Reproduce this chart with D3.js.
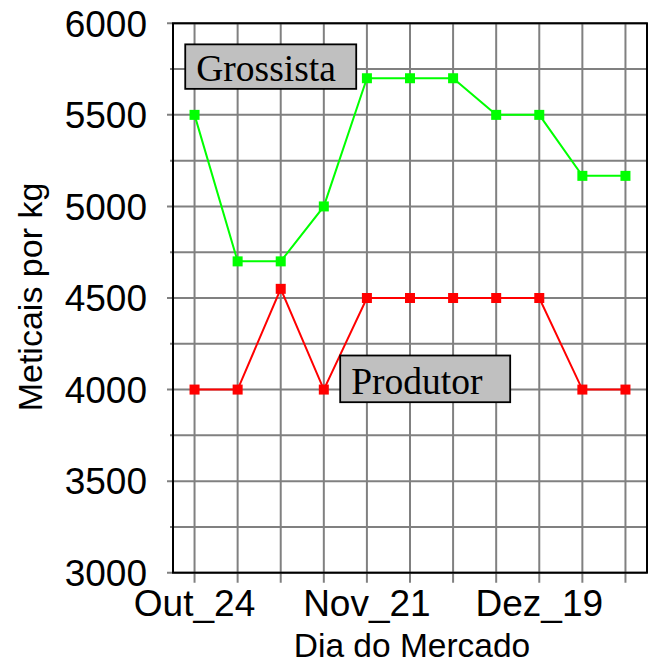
<!DOCTYPE html>
<html><head><meta charset="utf-8">
<script src="https://cdn.jsdelivr.net/npm/d3@7"></script>
<style>body{margin:0;background:#fff}</style>
</head><body>
<svg id="c" width="656" height="664"></svg>
<script>
const categories = ["Out_24","Out_31","Nov_07","Nov_14","Nov_21","Nov_28","Dez_05","Dez_12","Dez_19","Dez_26","Jan_02"];
const shownLabels = ["Out_24","Nov_21","Dez_19"];
const grossista = [5500,4700,4700,5000,5700,5700,5700,5500,5500,5167,5167];
const produtor  = [4000,4000,4550,4000,4500,4500,4500,4500,4500,4000,4000];
const yTicks = [3000,3500,4000,4500,5000,5500,6000];
const yMinor = [3250,3750,4250,4750,5250,5750];
const annotations = [
  {text:"Grossista", i0:-0.216, i1:3.752, v0:5642, v1:5885},
  {text:"Produtor",  i0:3.38,   i1:7.325, v0:3931, v1:4186}
];

const svg = d3.select("#c");
const L=173, R=647, T=23.3, B=572.7;
const x = d3.scalePoint().domain(categories).range([L,R]).padding(0.5);
const y = d3.scaleLinear().domain([3000,6000]).range([B,T]);
const grid = "#808080";
const sans = "Liberation Sans, Arial, sans-serif";

// grid
svg.append("g").selectAll("line").data(categories).join("line")
  .attr("x1",d=>x(d)).attr("x2",d=>x(d)).attr("y1",T).attr("y2",B+10)
  .attr("stroke",grid).attr("stroke-width",2);
svg.append("g").selectAll("line").data(yTicks.concat(yMinor)).join("line")
  .attr("x1",d=>yTicks.includes(d)?L-6:L-3).attr("x2",R).attr("y1",d=>y(d)).attr("y2",d=>y(d))
  .attr("stroke",grid).attr("stroke-width",2);

// frame
svg.append("rect").attr("x",L).attr("y",T).attr("width",R-L).attr("height",B-T)
  .attr("fill","none").attr("stroke","#000").attr("stroke-width",2);

// y labels
svg.append("g").selectAll("text").data(yTicks).join("text")
  .attr("x",L-26).attr("y",d=>y(d)).attr("dy","0.36em").attr("text-anchor","end")
  .attr("font-family",sans).attr("font-size",37)
  .text(d=>d);
// x labels
svg.append("g").selectAll("text").data(shownLabels).join("text")
  .attr("x",d=>x(d)).attr("y",616).attr("text-anchor","middle")
  .attr("font-family",sans).attr("font-size",37)
  .text(d=>d);
// titles
svg.append("text").attr("x",(L+R)/2+2).attr("y",657).attr("text-anchor","middle")
  .attr("font-family",sans).attr("font-size",33.5)
  .text("Dia do Mercado");
svg.append("text").attr("transform",`translate(42,${(T+B)/2-1}) rotate(-90)`).attr("text-anchor","middle")
  .attr("font-family",sans).attr("font-size",34)
  .text("Meticais por kg");

// series
const series = [{vals:grossista,color:"#00ff00"},{vals:produtor,color:"#ff0000"}];
const line = d3.line().x((d,i)=>x(categories[i])).y(d=>y(d));
series.forEach(s=>{
  svg.append("path").datum(s.vals).attr("d",line).attr("fill","none")
    .attr("stroke",s.color).attr("stroke-width",2);
  svg.append("g").selectAll("rect").data(s.vals).join("rect")
    .attr("x",(d,i)=>x(categories[i])-5).attr("y",d=>y(d)-5)
    .attr("width",10).attr("height",10).attr("fill",s.color);
});

// annotations
const step = x.step();
const x0 = x(categories[0]);
annotations.forEach(a=>{
  const bx0 = x0 + a.i0*step, bx1 = x0 + a.i1*step;
  const by0 = y(a.v1), by1 = y(a.v0);
  svg.append("rect").attr("x",bx0).attr("y",by0).attr("width",bx1-bx0).attr("height",by1-by0)
    .attr("fill","#c0c0c0").attr("stroke","#000").attr("stroke-width",1.8);
  svg.append("text").attr("font-family","Liberation Serif, Times New Roman, serif")
    .attr("font-size",37.5).attr("x",bx0+11).attr("y",by1-8).text(a.text);
});
</script>
</body></html>
